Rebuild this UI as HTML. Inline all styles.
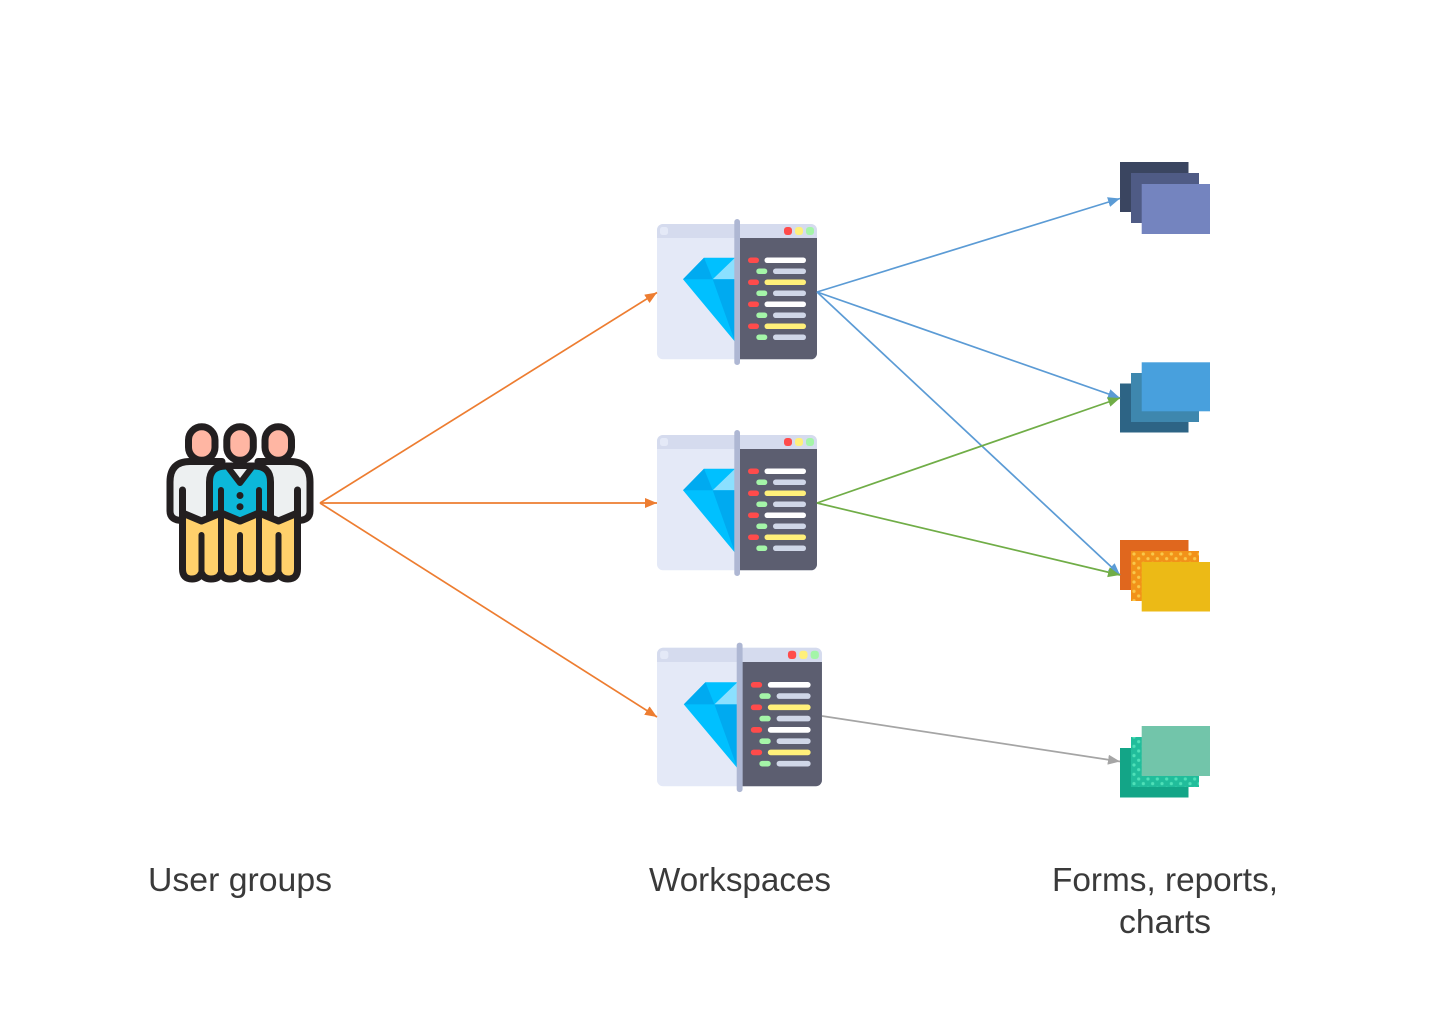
<!DOCTYPE html>
<html><head><meta charset="utf-8"><style>html,body{margin:0;padding:0;background:#fff}svg{display:block}text{font-family:"Liberation Sans",sans-serif;font-size:33px;fill:#3a3a3a}</style></head><body>
<svg width="1431" height="1013" viewBox="0 0 1431 1013" xmlns="http://www.w3.org/2000/svg">
<defs>
<marker id="ao" markerUnits="userSpaceOnUse" markerWidth="13" markerHeight="11" refX="12" refY="5" orient="auto"><path d="M0 0L12 5L0 10Z" fill="#ed7d31"/></marker>
<marker id="ab" markerUnits="userSpaceOnUse" markerWidth="13" markerHeight="11" refX="12" refY="5" orient="auto"><path d="M0 0L12 5L0 10Z" fill="#5b9bd5"/></marker>
<marker id="ag" markerUnits="userSpaceOnUse" markerWidth="13" markerHeight="11" refX="12" refY="5" orient="auto"><path d="M0 0L12 5L0 10Z" fill="#70ad47"/></marker>
<marker id="ay" markerUnits="userSpaceOnUse" markerWidth="13" markerHeight="11" refX="12" refY="5" orient="auto"><path d="M0 0L12 5L0 10Z" fill="#a5a5a5"/></marker>
<pattern id="po" patternUnits="userSpaceOnUse" x="1134" y="554" width="9.33" height="9.33"><circle cx="0" cy="0" r="1.6" fill="#f9c84a"/><circle cx="9.33" cy="0" r="1.6" fill="#f9c84a"/><circle cx="0" cy="9.33" r="1.6" fill="#f9c84a"/><circle cx="9.33" cy="9.33" r="1.6" fill="#f9c84a"/><circle cx="4.66" cy="4.66" r="1.6" fill="#f9c84a"/></pattern>
<pattern id="pg" patternUnits="userSpaceOnUse" x="1134" y="737" width="9.33" height="9.33"><circle cx="0" cy="0" r="1.6" fill="#4fe0b8"/><circle cx="9.33" cy="0" r="1.6" fill="#4fe0b8"/><circle cx="0" cy="9.33" r="1.6" fill="#4fe0b8"/><circle cx="9.33" cy="9.33" r="1.6" fill="#4fe0b8"/><circle cx="4.66" cy="4.66" r="1.6" fill="#4fe0b8"/></pattern>
<g id="ws">
<path d="M663 224H811a6 6 0 0 1 6 6V353a6 6 0 0 1-6 6.300H663a6 6 0 0 1-6-6V230a6 6 0 0 1 6-6Z" fill="#e4e9f7"/>
<path d="M663 224H811a6 6 0 0 1 6 6V238H657V230a6 6 0 0 1 6-6Z" fill="#d5dbee"/>
<rect x="660" y="227" width="8" height="8" rx="2.500" fill="#e4e9f7"/>
<path d="M683 279.300L704 257.700H735V341.700Z" fill="#00c0ff"/>
<path d="M683 279.300L704 257.700L712.700 279.300Z" fill="#00aaf0"/>
<path d="M712.700 279.300L735 257.700V279.300Z" fill="#8be0ff"/>
<path d="M712.700 279.300H735V341.700Z" fill="#00aaf0"/>
<path d="M740 238H817V353a6 6 0 0 1-6 6.300H740Z" fill="#5c5e70"/>
<rect x="734.300" y="219" width="5.700" height="146" rx="2.800" fill="#aeb7d3"/>
<rect x="784" y="227" width="8" height="8" rx="3" fill="#ff4b4b"/><rect x="795" y="227" width="8" height="8" rx="3" fill="#fff07a"/><rect x="806" y="227" width="8" height="8" rx="3" fill="#a4f5a8"/>
<rect x="748" y="257.500" width="11" height="5.500" rx="2.700" fill="#ff4b4b"/><rect x="764.500" y="257.500" width="41.500" height="5.500" rx="2.700" fill="#fff"/>
<rect x="756.300" y="268.500" width="11" height="5.500" rx="2.700" fill="#a4f5a8"/><rect x="773" y="268.500" width="33" height="5.500" rx="2.700" fill="#d0d7e8"/>
<rect x="748" y="279.500" width="11" height="5.500" rx="2.700" fill="#ff4b4b"/><rect x="764.500" y="279.500" width="41.500" height="5.500" rx="2.700" fill="#fff07a"/>
<rect x="756.300" y="290.500" width="11" height="5.500" rx="2.700" fill="#a4f5a8"/><rect x="773" y="290.500" width="33" height="5.500" rx="2.700" fill="#d0d7e8"/>
<rect x="748" y="301.500" width="11" height="5.500" rx="2.700" fill="#ff4b4b"/><rect x="764.500" y="301.500" width="41.500" height="5.500" rx="2.700" fill="#fff"/>
<rect x="756.300" y="312.500" width="11" height="5.500" rx="2.700" fill="#a4f5a8"/><rect x="773" y="312.500" width="33" height="5.500" rx="2.700" fill="#d0d7e8"/>
<rect x="748" y="323.500" width="11" height="5.500" rx="2.700" fill="#ff4b4b"/><rect x="764.500" y="323.500" width="41.500" height="5.500" rx="2.700" fill="#fff07a"/>
<rect x="756.300" y="334.500" width="11" height="5.500" rx="2.700" fill="#a4f5a8"/><rect x="773" y="334.500" width="33" height="5.500" rx="2.700" fill="#d0d7e8"/>
</g>
</defs>

<!-- people -->
<g stroke-linejoin="round" stroke-linecap="round">
<!-- white bodies -->
<path d="M222 461.500H190Q170 461.500 170 482V511Q170 520.500 182.500 520.500H222Z" fill="#edf0f1"/>
<path d="M258 461.500H290Q310 461.500 310 482V511Q310 520.500 297.500 520.500H258Z" fill="#edf0f1"/>
<g fill="none" stroke="#231f20" stroke-width="7">
<path d="M222 461.500H190Q170 461.500 170 482V511Q170 520.500 182.500 520.500"/>
<path d="M258 461.500H290Q310 461.500 310 482V511Q310 520.500 297.500 520.500"/>
<path d="M182.500 490V520M297.500 490V520"/>
</g>
<!-- trousers -->
<path d="M182.500 513L201.500 521L221 513L240 521L259 513L278.500 521L297.500 513V569Q297.500 579 288 579Q281 579 278.500 573Q276 579 269 579Q261 579 259 573Q257 579 250 579Q242 579 240 573Q238 579 230 579Q223 579 221 573Q219 579 211 579Q204 579 201.500 573Q199 579 192 579Q182.500 579 182.500 569Z" fill="#ffd06b" stroke="#231f20" stroke-width="7"/>
<path d="M201.500 573V535M240 573V535M278.500 573V535M221 573V513M259 573V513" fill="none" stroke="#231f20" stroke-width="6"/>
<!-- vest -->
<path d="M209.500 516V482Q209.500 466 226 466H254Q270.500 466 270.500 482V516L259 513L240 521L221 513Z" fill="#0cb8d9" stroke="#231f20" stroke-width="7"/>
<path d="M227 466H253L240 483Z" fill="#edf0f1" stroke="#231f20" stroke-width="6"/>
<path d="M221 513V490M259 513V490" fill="none" stroke="#231f20" stroke-width="6"/>
<!-- heads -->
<rect x="188.500" y="426.800" width="26.500" height="33.500" rx="13.200" fill="#ffb6a3" stroke="#231f20" stroke-width="7"/>
<rect x="265" y="426.800" width="26.500" height="33.500" rx="13.200" fill="#ffb6a3" stroke="#231f20" stroke-width="7"/>
<rect x="226.800" y="426.800" width="26.500" height="33.500" rx="13.200" fill="#ffb6a3" stroke="#231f20" stroke-width="7"/>
</g>
<circle cx="240" cy="495.500" r="3.500" fill="#231f20"/><circle cx="240" cy="506.700" r="3.500" fill="#231f20"/>

<!-- workspaces -->
<use href="#ws"/>
<use href="#ws" y="211"/>
<use href="#ws" transform="translate(657 647.700) scale(1.031 1.024) translate(-657 -224)"/>

<!-- stacks -->
<rect x="1120" y="162" width="68.500" height="50" fill="#3a4560"/><rect x="1131" y="173" width="68" height="50" fill="#4f5b85"/><rect x="1141.700" y="184" width="68.300" height="50" fill="#7484bf"/>
<rect x="1120" y="383.500" width="68.500" height="49" fill="#2d6485"/><rect x="1131" y="373" width="68" height="49" fill="#3e87ae"/><rect x="1141.700" y="362.300" width="68.300" height="49" fill="#48a0dd"/>
<rect x="1120" y="540" width="68.500" height="50" fill="#e0671e"/><rect x="1131" y="551" width="68" height="50" fill="#f29219"/><rect x="1131" y="551" width="68" height="50" fill="url(#po)"/><rect x="1141.700" y="562" width="68.300" height="49.500" fill="#ecba16"/>
<rect x="1120" y="748" width="68.500" height="49.500" fill="#13a587"/><rect x="1131" y="737" width="68" height="50" fill="#21bd9b"/><rect x="1131" y="737" width="68" height="50" fill="url(#pg)"/><rect x="1141.700" y="726" width="68.300" height="50" fill="#72c5aa"/>

<!-- connectors -->
<g fill="none" stroke-width="1.700">
<path d="M320 503L657 292.500" stroke="#ed7d31" marker-end="url(#ao)"/>
<path d="M320 503H657" stroke="#ed7d31" marker-end="url(#ao)"/>
<path d="M320 503L657 717" stroke="#ed7d31" marker-end="url(#ao)"/>
<path d="M817 292L1120 198.500" stroke="#5b9bd5" marker-end="url(#ab)"/>
<path d="M817 292L1120 398" stroke="#5b9bd5" marker-end="url(#ab)"/>
<path d="M817 292L1120 575" stroke="#5b9bd5" marker-end="url(#ab)"/>
<path d="M817 503L1120 398" stroke="#70ad47" marker-end="url(#ag)"/>
<path d="M817 503L1120 575" stroke="#70ad47" marker-end="url(#ag)"/>
<path d="M822 716L1120 761.500" stroke="#a5a5a5" marker-end="url(#ay)"/>
</g>

<!-- labels -->
<text x="148" y="891" textLength="184" lengthAdjust="spacingAndGlyphs">User groups</text>
<text x="649" y="891" textLength="182" lengthAdjust="spacingAndGlyphs">Workspaces</text>
<text x="1052" y="891" textLength="226" lengthAdjust="spacingAndGlyphs">Forms, reports,</text>
<text x="1119" y="933" textLength="92" lengthAdjust="spacingAndGlyphs">charts</text>
</svg>
</body></html>
